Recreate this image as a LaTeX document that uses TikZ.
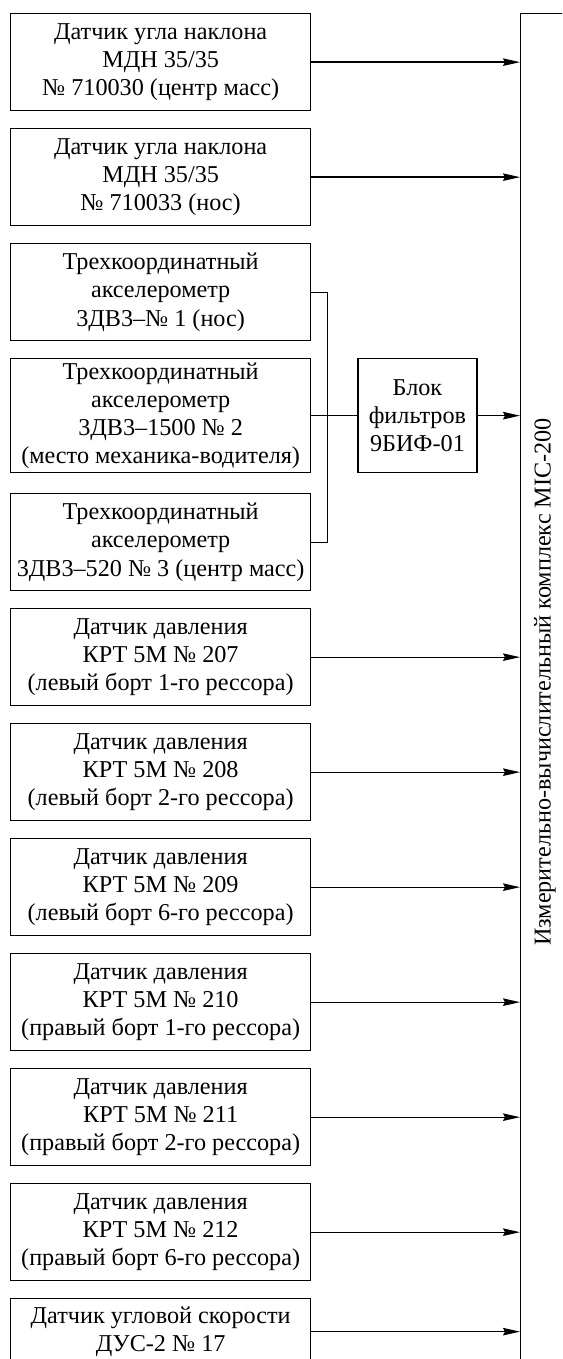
\documentclass[tikz,border=0pt]{standalone}
\usepackage{fontspec}
\setmainfont{Liberation Serif}
\usetikzlibrary{arrows.meta,positioning}

\begin{document}
\begin{tikzpicture}[x=1pt, y=1pt,
  font=\fontsize{24.2}{28.2}\selectfont,
  line width=1.3pt,
  box/.style={draw, minimum width=300pt, minimum height=97pt,
              align=center, inner sep=2pt},
  >={Stealth[length=17pt, width=7.5pt, inset=2pt]}, node distance=16.7pt]
\clip (0,0) rectangle (562,-1359);
\node[draw, anchor=north west, minimum width=100pt, minimum height=1400pt] (mic) at (520,-13) {};
\node[rotate=90] (miclbl) at (545,-682) {Измерительно-вычислительный комплекс MIC-200};
\node[box, anchor=north west] (mdn1) at (10,-13) {Датчик угла наклона\\МДН 35/35\\№ 710030 (центр масс)};
\node[box, below=of mdn1] (mdn2) {Датчик угла наклона\\МДН 35/35\\№ 710033 (нос)};
\node[box, below=of mdn2] (acc1) {Трехкоординатный\\акселерометр\\3ДВ3–№ 1 (нос)};
\node[box, below=of acc1, minimum height=114pt] (acc2) {Трехкоординатный\\акселерометр\\3ДВ3–1500 № 2\\(место механика-водителя)};
\node[box, below=19.7pt of acc2] (acc3) {Трехкоординатный\\акселерометр\\3ДВ3–520 № 3 (центр масс)};
\node[box, below=of acc3] (krt207) {Датчик давления\\КРТ 5М № 207\\(левый борт 1-го рессора)};
\node[box, below=of krt207] (krt208) {Датчик давления\\КРТ 5М № 208\\(левый борт 2-го рессора)};
\node[box, below=of krt208] (krt209) {Датчик давления\\КРТ 5М № 209\\(левый борт 6-го рессора)};
\node[box, below=of krt209] (krt210) {Датчик давления\\КРТ 5М № 210\\(правый борт 1-го рессора)};
\node[box, below=of krt210] (krt211) {Датчик давления\\КРТ 5М № 211\\(правый борт 2-го рессора)};
\node[box, below=of krt211] (krt212) {Датчик давления\\КРТ 5М № 212\\(правый борт 6-го рессора)};
\node[box, below=of krt212, minimum height=66pt] (dus) {Датчик угловой скорости\\ДУС-2 № 17};
\node[box, right=46pt of acc2, minimum width=119pt, minimum height=114pt] (filt) {Блок\\фильтров\\9БИФ-01};
\coordinate[right=16pt of acc2.east] (jn);
% accelerometers into the filter block
\draw (acc1.east) -| (jn) |- (acc3.east);
\draw (acc2.east) -- (filt.west);
\draw[->] (filt.east) -- (filt.east -| mic.west);
% sensors into MIC-200
\foreach \s in {mdn1,mdn2,krt207,krt208,krt209,krt210,krt211,krt212,dus}
  \draw[->] (\s.east) -- (\s.east -| mic.west);
\end{tikzpicture}
\end{document}
